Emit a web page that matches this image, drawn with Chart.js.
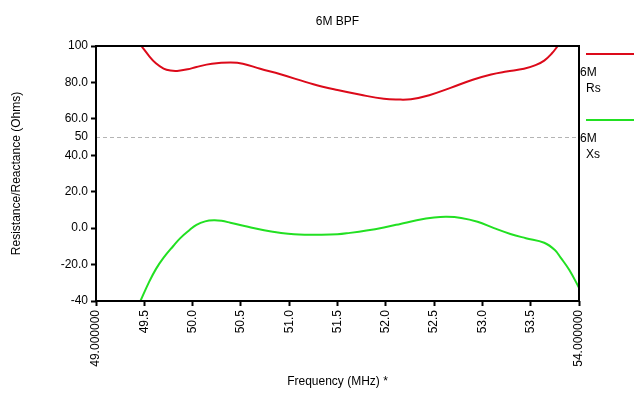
<html>
<head>
<style>
body { margin: 0; background: #fff; }
div.chart-box { width: 640px; height: 397px; }
</style>
<script src="https://cdn.jsdelivr.net/npm/chart.js"></script>
<script>
// 6M Rs curve (MHz, Ohms)
const rsFreq = [49.47, 49.55, 49.62, 49.70, 49.77, 49.84, 49.95, 50.04, 50.20, 50.39, 50.52, 50.70, 50.91, 51.25, 51.50, 51.74, 51.98, 52.12, 52.26, 52.45, 52.67, 52.90, 53.09, 53.25, 53.43, 53.55, 53.64, 53.72, 53.78];
const rsVals = [100, 94.5, 90.5, 87.6, 86.5, 86.3, 87.2, 88.5, 90.2, 90.9, 90.3, 87.5, 84.5, 79.0, 75.8, 73.2, 71.0, 70.6, 70.8, 73.0, 77.0, 81.5, 84.4, 86.0, 87.5, 89.5, 92.0, 96.0, 100];

// 6M Xs curve
const xsFreq = [49.46, 49.55, 49.62, 49.70, 49.80, 49.87, 49.96, 50.04, 50.13, 50.22, 50.30, 50.39, 50.55, 50.74, 50.90, 51.05, 51.30, 51.50, 51.63, 51.80, 51.98, 52.15, 52.32, 52.50, 52.63, 52.78, 52.95, 53.12, 53.29, 53.45, 53.64, 53.75, 53.81, 53.90, 54.0];
const xsVals = [-40, -29.5, -22.5, -16.2, -9.8, -5.6, -1.4, 1.8, 3.7, 4.3, 4.0, 3.0, 1.0, -1.2, -2.5, -3.3, -3.6, -3.4, -2.6, -1.3, 0.4, 2.3, 4.3, 5.8, 6.2, 5.6, 3.5, 0.0, -3.2, -5.5, -8.0, -12.0, -16.2, -23, -32.7];

const xTickValues = [49, 49.5, 50, 50.5, 51, 51.5, 52, 52.5, 53, 53.5, 54];
const xTickLabels = ['49.000000', '49.5', '50.0', '50.5', '51.0', '51.5', '52.0', '52.5', '53.0', '53.5', '54.000000'];
const yTickValues = [-40, -20, 0, 20, 40, 50, 60, 80, 100];
const yTickLabels = ['-40', '-20.0', '0.0', '20.0', '40.0', '50', '60.0', '80.0', '100'];
const refLevel = 50;

const seriesLabels = ['6M Rs', '6M Xs'];
const seriesColors = ['#dc0a1a', '#22e022'];

function toPoints(xs, ys) {
  return xs.map((x, i) => ({x: x, y: ys[i]}));
}
</script>
</head>
<body>
<div class="chart-box">
  <canvas id="myChart" width="640" height="397"></canvas>
</div>
<script>
Chart.defaults.font.family = "'Liberation Sans', Arial, sans-serif";
Chart.defaults.font.size = 12;
Chart.defaults.color = '#000';

// black box round the plot area
const framePlugin = {
  id: 'frame',
  afterDatasetsDraw(chart) {
    const a = chart.chartArea;
    const ctx = chart.ctx;
    ctx.save();
    ctx.strokeStyle = '#000';
    ctx.lineWidth = 2;
    ctx.strokeRect(a.left, a.top, a.right - a.left, a.bottom - a.top);
    ctx.restore();
  }
};

// legend on the right: line, then label on two lines
const sideLegend = {
  id: 'sideLegend',
  afterDraw(chart) {
    const ctx = chart.ctx;
    const a = chart.chartArea;
    ctx.save();
    ctx.font = "12px 'Liberation Sans', Arial, sans-serif";
    ctx.fillStyle = '#000';
    ctx.textBaseline = 'middle';
    chart.data.datasets.forEach((ds, i) => {
      const y = 54 + i * 66;
      ctx.strokeStyle = ds.borderColor;
      ctx.lineWidth = 2;
      ctx.beginPath();
      ctx.moveTo(a.right + 7, y);
      ctx.lineTo(a.right + 55, y);
      ctx.stroke();
      const parts = ds.label.split(' ');
      ctx.fillText(parts[0], a.right + 1, y + 19);
      ctx.fillText(parts[1], a.right + 7, y + 35);
    });
    ctx.restore();
  }
};

const config = {
  type: 'line',
  data: {
    datasets: [{
      label: seriesLabels[0],
      data: toPoints(rsFreq, rsVals),
      borderColor: seriesColors[0],
      borderWidth: 2,
      pointRadius: 0,
      tension: 0.4
    }, {
      label: seriesLabels[1],
      data: toPoints(xsFreq, xsVals),
      borderColor: seriesColors[1],
      borderWidth: 2,
      pointRadius: 0,
      tension: 0.4
    }]
  },
  options: {
    responsive: false,
    animation: false,
    layout: { padding: { left: 0, right: 61, top: 0, bottom: 0 } },
    plugins: {
      legend: { display: false },
      tooltip: { enabled: false },
      title: {
        display: true,
        text: '6M BPF',
        fullSize: false,
        color: '#000',
        font: { size: 12, weight: 'normal' },
        padding: { top: 14, bottom: 17.6 }
      }
    },
    scales: {
      x: {
        type: 'linear',
        min: 49,
        max: 54,
        afterBuildTicks: (scale) => {
          scale.ticks = xTickValues.map(v => ({value: v}));
        },
        afterFit: (scale) => { scale.height = 96; },
        ticks: {
          autoSkip: false,
          minRotation: 90,
          maxRotation: 90,
          padding: 4,
          callback: (value, index) => xTickLabels[index]
        },
        grid: {
          color: 'rgba(0,0,0,0)',
          tickColor: '#000',
          tickWidth: 2,
          tickLength: 5
        },
        border: { display: false },
        title: {
          display: true,
          text: 'Frequency (MHz) *',
          font: { size: 12 },
          padding: { top: 4, bottom: 8 }
        }
      },
      y: {
        min: -40,
        max: 100,
        afterBuildTicks: (scale) => {
          scale.ticks = yTickValues.map(v => ({value: v}));
        },
        afterFit: (scale) => { scale.width = 96; },
        ticks: {
          autoSkip: false,
          padding: 3,
          callback: (value, index) => yTickLabels[index]
        },
        grid: {
          color: (ctx) => (ctx.tick && ctx.tick.value === refLevel) ? '#b4b4b4' : 'rgba(0,0,0,0)',
          tickColor: (ctx) => (ctx.tick && ctx.tick.value === refLevel) ? 'rgba(0,0,0,0)' : '#000',
          lineWidth: 1,
          tickWidth: 2,
          tickLength: 5
        },
        border: { display: false, dash: [4, 3] },
        title: {
          display: true,
          text: 'Resistance/Reactance (Ohms)',
          font: { size: 12 },
          padding: { top: 9, bottom: 4 }
        }
      }
    }
  },
  plugins: [framePlugin, sideLegend]
};

const myChart = new Chart(document.getElementById('myChart'), config);
</script>
</body>
</html>
